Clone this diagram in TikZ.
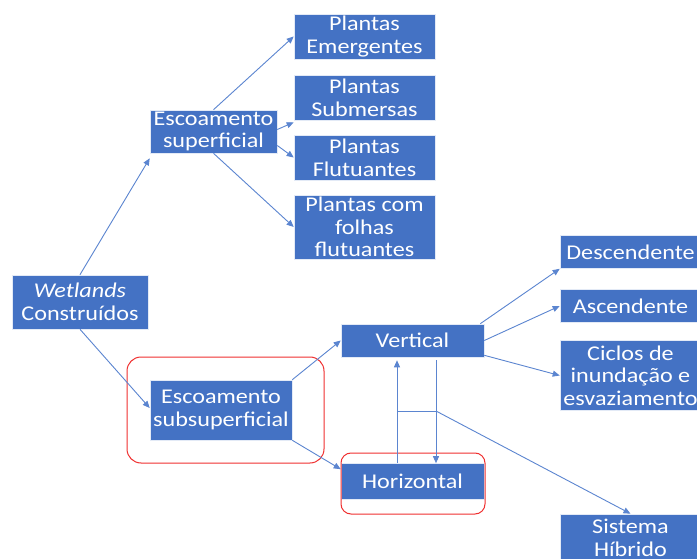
\documentclass[tikz,border=0pt]{standalone}
\usepackage{fontspec}
\setmainfont{Carlito}[FakeStretch=1.15]
\usetikzlibrary{arrows.meta}
\definecolor{boxblue}{HTML}{4472C4}
\definecolor{arrblue}{HTML}{5B85D0}
\definecolor{redline}{HTML}{F03030}
\begin{document}
\begin{tikzpicture}[x=1pt,y=-1pt,
  bx/.style={draw=white!85!boxblue, line width=0.6pt, fill=boxblue, text=white, align=center, inner sep=0pt,
    font=\fontsize{21}{22.7}\selectfont},
  conn/.style={draw=arrblue, line width=0.9pt, -{Triangle[length=7pt,width=6pt]}},
  plain/.style={draw=arrblue, line width=0.9pt},
  redbox/.style={draw=redline, line width=1pt, rounded corners=14pt}]
\useasboundingbox (0,0) rectangle (697,559);
\clip (0,0) rectangle (697,559);
\fill[white] (0,0) rectangle (697,559);

\node[bx, minimum width=141pt, minimum height=45pt] (pe) at (364.5,36.5) {Plantas\\Emergentes};
\node[bx, minimum width=141pt, minimum height=45pt] (ps) at (364.5,97.5) {Plantas\\Submersas};
\node[bx, minimum width=141pt, minimum height=45pt] (pf) at (364.5,157.5) {Plantas\\Flutuantes};
\node[bx, minimum width=141pt, minimum height=64pt] (pc) at (364.5,227) {Plantas com\\folhas\\flutuantes};
\node[bx, minimum width=127pt, minimum height=43pt] (es) at (213.5,131.5) {Escoamento\\superficial};
\node[bx, minimum width=136pt, minimum height=54pt] (wc) at (80,302) {\textit{Wetlands}\\Constru\'{\i}dos};
\node[bx, minimum width=142pt, minimum height=60pt] (ess) at (221,410) {Escoamento\\subsuperficial};
\node[bx, minimum width=143pt, minimum height=33pt] (ver) at (412.5,340.5) {Vertical};
\node[bx, minimum width=143pt, minimum height=36pt] (hor) at (412.5,481.5) {Horizontal};
\node[bx, minimum width=141pt, minimum height=33pt] (desc) at (630.5,252) {Descendente};
\node[bx, minimum width=141pt, minimum height=33pt] (asc) at (630.5,306) {Ascendente};
\node[bx, minimum width=141pt, minimum height=70pt] (cic) at (630.5,375.5) {Ciclos de\\inunda\c{c}\~ao e\\esvaziamento};
\node[bx, minimum width=141pt, minimum height=48pt] (sh) at (630.5,538) {Sistema\\H\'{\i}brido};

\draw[redbox] (127,357) rectangle (324,463);
\draw[redbox, rounded corners=10pt] (341,453) rectangle (485,514);

\draw[conn] (wc.north) -- ([yshift=-5pt]es.south west);
\draw[conn] (es.north) -- (pe.west);
\draw[conn] ([yshift=2pt]es.east) -- ([yshift=-2pt]ps.south west);
\draw[conn] ([yshift=-14pt]es.east) -- (pf.west);
\draw[conn] (es.south) -- (pc.west);
\draw[conn] (wc.south) -- ([yshift=2pt]ess.west);
\draw[conn] (ess.north east) -- (ver.west);
\draw[conn] (ess.south east) -- ([yshift=-6pt]hor.north west);
\draw[conn] ([xshift=-4pt]ver.north east) -- (desc.south west);
\draw[conn] (ver.east) -- (asc.west);
\draw[conn] ([yshift=2pt]ver.south east) -- (cic.west);

\coordinate (j1) at (397,411);
\coordinate (j2) at (436,411);
\draw[conn] ([xshift=-15.5pt]hor.north) -- ([xshift=-15.5pt,yshift=-3pt]ver.south);
\draw[conn] ([xshift=23.5pt,yshift=-3pt]ver.south) -- ([xshift=23.5pt]hor.north);
\draw[plain] (j1) -- (j2);
\draw[conn] (j2) -- (sh.north);
\end{tikzpicture}
\end{document}
